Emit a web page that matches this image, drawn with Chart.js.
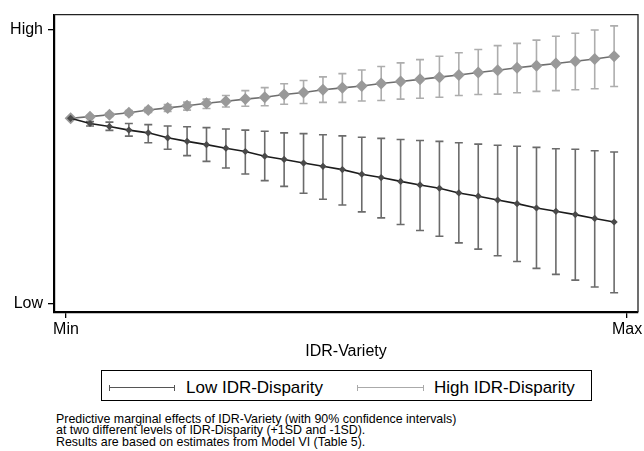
<!DOCTYPE html>
<html>
<head>
<meta charset="utf-8">
<script src="https://cdn.jsdelivr.net/npm/chart.js@4"></script>
<style>
  body { margin: 0; background: #fff; font-family: "Liberation Sans", Arial, sans-serif; }
  #wrap { position: relative; width: 644px; height: 451px; overflow: hidden; }
  #grafico { position: absolute; left: 0; top: 0; }
  #leyenda { position: absolute; left: 101px; top: 370px; width: 489px; height: 29px; border: 1px solid #000; }
  .item { position: absolute; top: 7px; font-size: 17px; line-height: 20px; color: #000; }
  .simbolo { position: absolute; top: 16px; height: 0; border-top: 1.4px solid #333; }
  #nota { position: absolute; left: 56px; top: 414px; font-size: 12.4px; line-height: 11.3px; color: #000; white-space: nowrap; }
</style>
</head>
<body>
<div id="wrap">
  <canvas id="grafico" width="644" height="365"></canvas>
  <div id="leyenda">
    <div class="simbolo" style="left:7px;width:66px;border-color:#555"></div>
    <div class="item" style="left:84px">Low IDR-Disparity</div>
    <div class="simbolo" style="left:255px;width:67px;border-color:#aaa"></div>
    <div class="item" style="left:332px">High IDR-Disparity</div>
  </div>
  <div id="nota">
    Predictive marginal effects of IDR-Variety (with 90% confidence intervals)<br>
    at two different levels of IDR-Disparity (+1SD and -1SD).<br>
    Results are based on estimates from Model VI (Table 5).
  </div>
</div>
<script>
// posiciones en el eje X (0 = primer punto), Min / Max son las marcas del eje
const pasos = [0,1,2,3,4,5,6,7,8,9,10,11,12,13,14,15,16,17,18,19,20,21,22,23,24,25,26,27,28];
const etiquetasX = ['Min', 'Max'];
const posicionesX = [-0.24, 28.67];
const etiquetasY = ['Low', 'High'];
const posicionesY = [0, 100];

// Low IDR-Disparity (-1SD)
const bajo = [67.7,65.8,64.7,63.4,62.4,60.6,59.3,58.1,56.8,55.6,53.9,52.7,51.4,50.2,49.0,47.3,46.1,44.7,43.4,42.2,40.5,39.3,37.9,36.6,35.0,33.8,32.6,31.2,29.9];
const bajoSup = [67.7,66.5,66.3,65.8,65.4,64.9,64.6,64.3,63.8,63.4,63.0,62.4,62.1,61.7,61.3,60.8,60.4,60.0,59.6,59.3,58.8,58.3,57.9,57.5,57.1,56.6,56.4,55.9,55.4];
const bajoInf = [67.7,64.9,63.3,61.2,58.8,56.4,54.1,52.0,49.6,47.4,45.0,42.9,40.4,38.2,36.1,33.6,31.4,29.0,26.8,24.7,22.3,20.0,17.6,15.5,13.0,10.8,8.7,6.2,4.1];

// High IDR-Disparity (+1SD)
const alto = [67.7,68.3,69.0,69.7,70.7,71.5,72.3,73.2,73.9,74.7,75.4,76.4,77.1,78.1,78.8,79.5,80.4,81.1,81.9,82.7,83.5,84.4,85.2,86.1,86.9,87.7,88.5,89.3,90.3];
const altoSup = [67.7,68.7,69.6,70.5,71.6,72.7,73.6,74.7,76.0,77.8,78.9,80.3,81.5,82.8,84.0,85.3,86.6,87.9,89.1,90.3,91.6,92.8,94.2,95.0,96.2,97.6,98.7,99.9,101.4];
const altoInf = [67.7,67.8,68.4,68.9,69.8,70.2,70.7,71.3,71.8,72.1,72.3,72.8,73.1,73.5,73.5,74.0,74.2,74.7,75.0,75.4,76.0,76.4,76.5,77.0,77.5,77.8,78.1,78.5,79.3];

function puntos(valores) {
  return pasos.map((p, i) => ({ x: p, y: valores[i] }));
}

// barras de error (intervalos de 90%)
const barrasError = {
  id: 'barrasError',
  beforeDatasetsDraw(chart) {
    const ctx = chart.ctx;
    const xs = chart.scales.x, ys = chart.scales.y;
    const series = [
      { sup: altoSup, inf: altoInf, color: '#adadad' },
      { sup: bajoSup, inf: bajoInf, color: '#6b6b6b' }
    ];
    ctx.save();
    ctx.lineWidth = 1.6;
    series.forEach(s => {
      ctx.strokeStyle = s.color;
      pasos.forEach((p, i) => {
        if (s.sup[i] === s.inf[i]) return;
        let x = xs.getPixelForValue(p);
        let y1 = ys.getPixelForValue(s.sup[i]);
        let y2 = ys.getPixelForValue(s.inf[i]);
        ctx.beginPath();
        ctx.moveTo(x, y1); ctx.lineTo(x, y2);
        ctx.moveTo(x - 4, y1); ctx.lineTo(x + 4, y1);
        ctx.moveTo(x - 4, y2); ctx.lineTo(x + 4, y2);
        ctx.stroke();
      });
    });
    ctx.restore();
  },
  afterDraw(chart) {
    // marco superior y derecho
    const a = chart.chartArea, ctx = chart.ctx;
    ctx.save();
    ctx.strokeStyle = '#222';
    ctx.lineWidth = 1.3;
    ctx.beginPath();
    ctx.moveTo(a.left, a.top); ctx.lineTo(a.right, a.top); ctx.lineTo(a.right, a.bottom);
    ctx.stroke();
    ctx.restore();
  }
};

const config = {
  type: 'line',
  data: {
    datasets: [
      {
        label: 'Low IDR-Disparity',
        data: puntos(bajo),
        borderColor: '#1c1c1c',
        borderWidth: 1.6,
        pointStyle: 'rectRot',
        pointRadius: 3.6,
        pointBackgroundColor: '#4a4a4a',
        pointBorderWidth: 0,
        order: 0
      },
      {
        label: 'High IDR-Disparity',
        data: puntos(alto),
        borderColor: '#6e6e6e',
        borderWidth: 1.6,
        pointStyle: 'rectRot',
        pointRadius: 6,
        pointBackgroundColor: '#999999',
        pointBorderWidth: 0,
        order: 1
      }
    ]
  },
  options: {
    responsive: false,
    animation: false,
    layout: { padding: { left: 0, top: 14, right: 3, bottom: 0 } },
    plugins: { legend: { display: false }, tooltip: { enabled: false } },
    scales: {
      x: {
        type: 'linear',
        min: -0.856,
        max: 29.23,
        afterBuildTicks: s => { s.ticks = posicionesX.map(v => ({ value: v })); },
        afterFit: s => { s.height = 53; s.paddingLeft = 0; s.paddingRight = 0; },
        ticks: {
          color: '#000',
          font: { family: 'Liberation Sans', size: 16 },
          padding: 2,
          maxRotation: 0,
          callback: (v, i) => etiquetasX[i]
        },
        grid: { display: true, drawOnChartArea: false, drawTicks: true, tickLength: 6, color: '#000', lineWidth: 1.3 },
        border: { display: true, color: '#000', width: 2.2 },
        title: {
          display: true,
          text: 'IDR-Variety',
          color: '#000',
          font: { family: 'Liberation Sans', size: 16 },
          padding: { top: 2, bottom: 4 }
        }
      },
      y: {
        type: 'linear',
        min: -2.9,
        max: 105.5,
        afterBuildTicks: s => { s.ticks = posicionesY.map(v => ({ value: v })); },
        afterFit: s => { s.width = 54; },
        ticks: {
          color: '#000',
          font: { family: 'Liberation Sans', size: 16 },
          padding: 5,
          callback: (v, i) => etiquetasY[i]
        },
        grid: { display: true, drawOnChartArea: false, drawTicks: true, tickLength: 6, color: '#000', lineWidth: 1.3 },
        border: { display: true, color: '#000', width: 2.2 }
      }
    }
  },
  plugins: [barrasError]
};

new Chart(document.getElementById('grafico'), config);

// los extremos de los simbolos de la leyenda
document.querySelectorAll('.simbolo').forEach(el => {
  const c = el.style.borderColor;
  ['0px', (parseFloat(el.style.width) - 1.4) + 'px'].forEach(l => {
    const t = document.createElement('div');
    t.style.cssText = 'position:absolute;top:-3.5px;left:' + l + ';width:0;height:6px;border-left:1.4px solid ' + c;
    el.appendChild(t);
  });
});
</script>
</body>
</html>
